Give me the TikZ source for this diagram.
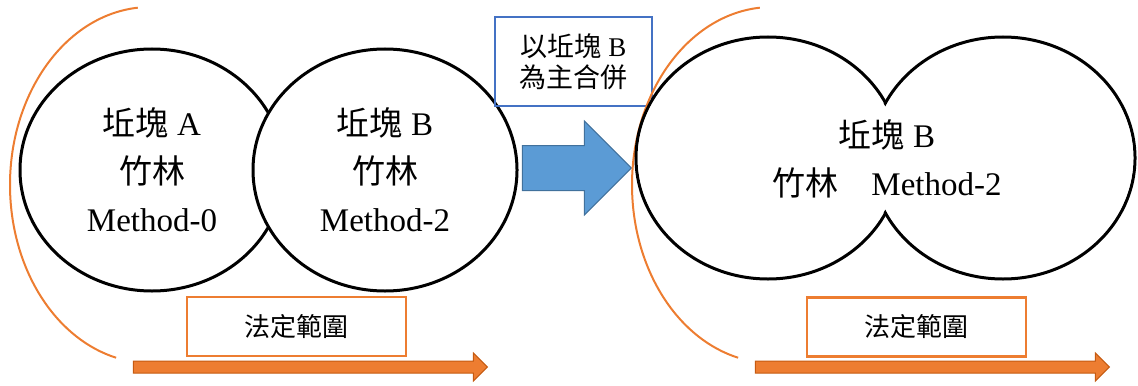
\documentclass[tikz,border=0pt]{standalone}
\usepackage{fontspec}
\setmainfont{Liberation Serif}
\newfontfamily\cjk{Noto Sans CJK TC}
\usepackage{xcolor}
\usetikzlibrary{positioning}
\usetikzlibrary{shapes.geometric}
\usetikzlibrary{shapes.arrows}
\definecolor{rangeorange}{HTML}{ED7D31}
\definecolor{rangeedge}{HTML}{C55A11}
\definecolor{mergeblue}{HTML}{5B9BD5}
\definecolor{mergeedge}{HTML}{41719C}
\definecolor{noteblue}{HTML}{4472C4}
\newcommand{\zh}[1]{{\cjk #1}}

\begin{document}
\begin{tikzpicture}[x=0.5pt, y=-0.5pt, font=\fontsize{16.5}{24}\selectfont]
\tikzstyle{plot}=[ellipse, draw=black, line width=1.5pt, fill=white, minimum width=132pt, minimum height=121pt, inner sep=0pt, align=center]
\tikzstyle{rangebox}=[draw=rangeorange, line width=1.2pt, fill=white, minimum width=109.5pt, minimum height=29.5pt, font=\fontsize{13}{15}\selectfont]
\tikzstyle{rangearrow}=[single arrow, draw=rangeedge, fill=rangeorange, line width=0.5pt, minimum height=177pt, single arrow head extend=4pt, inner xsep=0pt, inner ysep=2.75pt, anchor=tip]
\tikzstyle{rangearc}=[draw=rangeorange, line width=1pt]
\tikzstyle{notebox}=[draw=noteblue, line width=1.2pt, minimum width=78.5pt, minimum height=44.5pt, align=center, font=\fontsize{13.5}{15.5}\selectfont]
\tikzstyle{mergearrow}=[single arrow, draw=mergeedge, fill=mergeblue, line width=0.5pt, minimum height=54.5pt, single arrow head extend=12.25pt, inner xsep=0pt, inner ysep=11pt, anchor=tip]

\useasboundingbox (0,0) rectangle (1138,385);

% before merging
\draw[rangearc] (137.8,7.7) arc[start angle=265, end angle=104, x radius=140, y radius=178];
\node[plot] (plotA) at (152,170) {\zh{坵塊} A\\\zh{竹林}\\Method-0};
\node[plot] (plotB) at (385,170) {\zh{坵塊} B\\\zh{竹林}\\Method-2};
\node[rangebox] (rangeA) at (296.5,326.5) {\zh{法定範圍}};
\node[rangearrow] (rangeArrowA) at (488,367) {};

% merge step
\node[mergearrow] (merge) at (632,168) {};
\node[notebox] (mergenote) at (573.5,61.5) {\zh{以坵塊} B\\\zh{為主合併}};

% after merging
\draw[rangearc] (759.8,7.7) arc[start angle=265, end angle=104, x radius=140, y radius=178];
\node[plot] (mergeL) at (768,158) {};
\node[plot] (mergeR) at (1003,158) {};
\fill[white] (mergeL.center) ellipse[x radius=130.2, y radius=118.2];
\fill[white] (mergeR.center) ellipse[x radius=130.2, y radius=118.2];
\node[align=center] (plotM) at (887,159) {\zh{坵塊} B\\\zh{竹林}\quad{}Method-2};
\node[rangebox] (rangeM) at (916.5,327) {\zh{法定範圍}};
\node[rangearrow] (rangeArrowM) at (1110,367) {};
\end{tikzpicture}
\end{document}
